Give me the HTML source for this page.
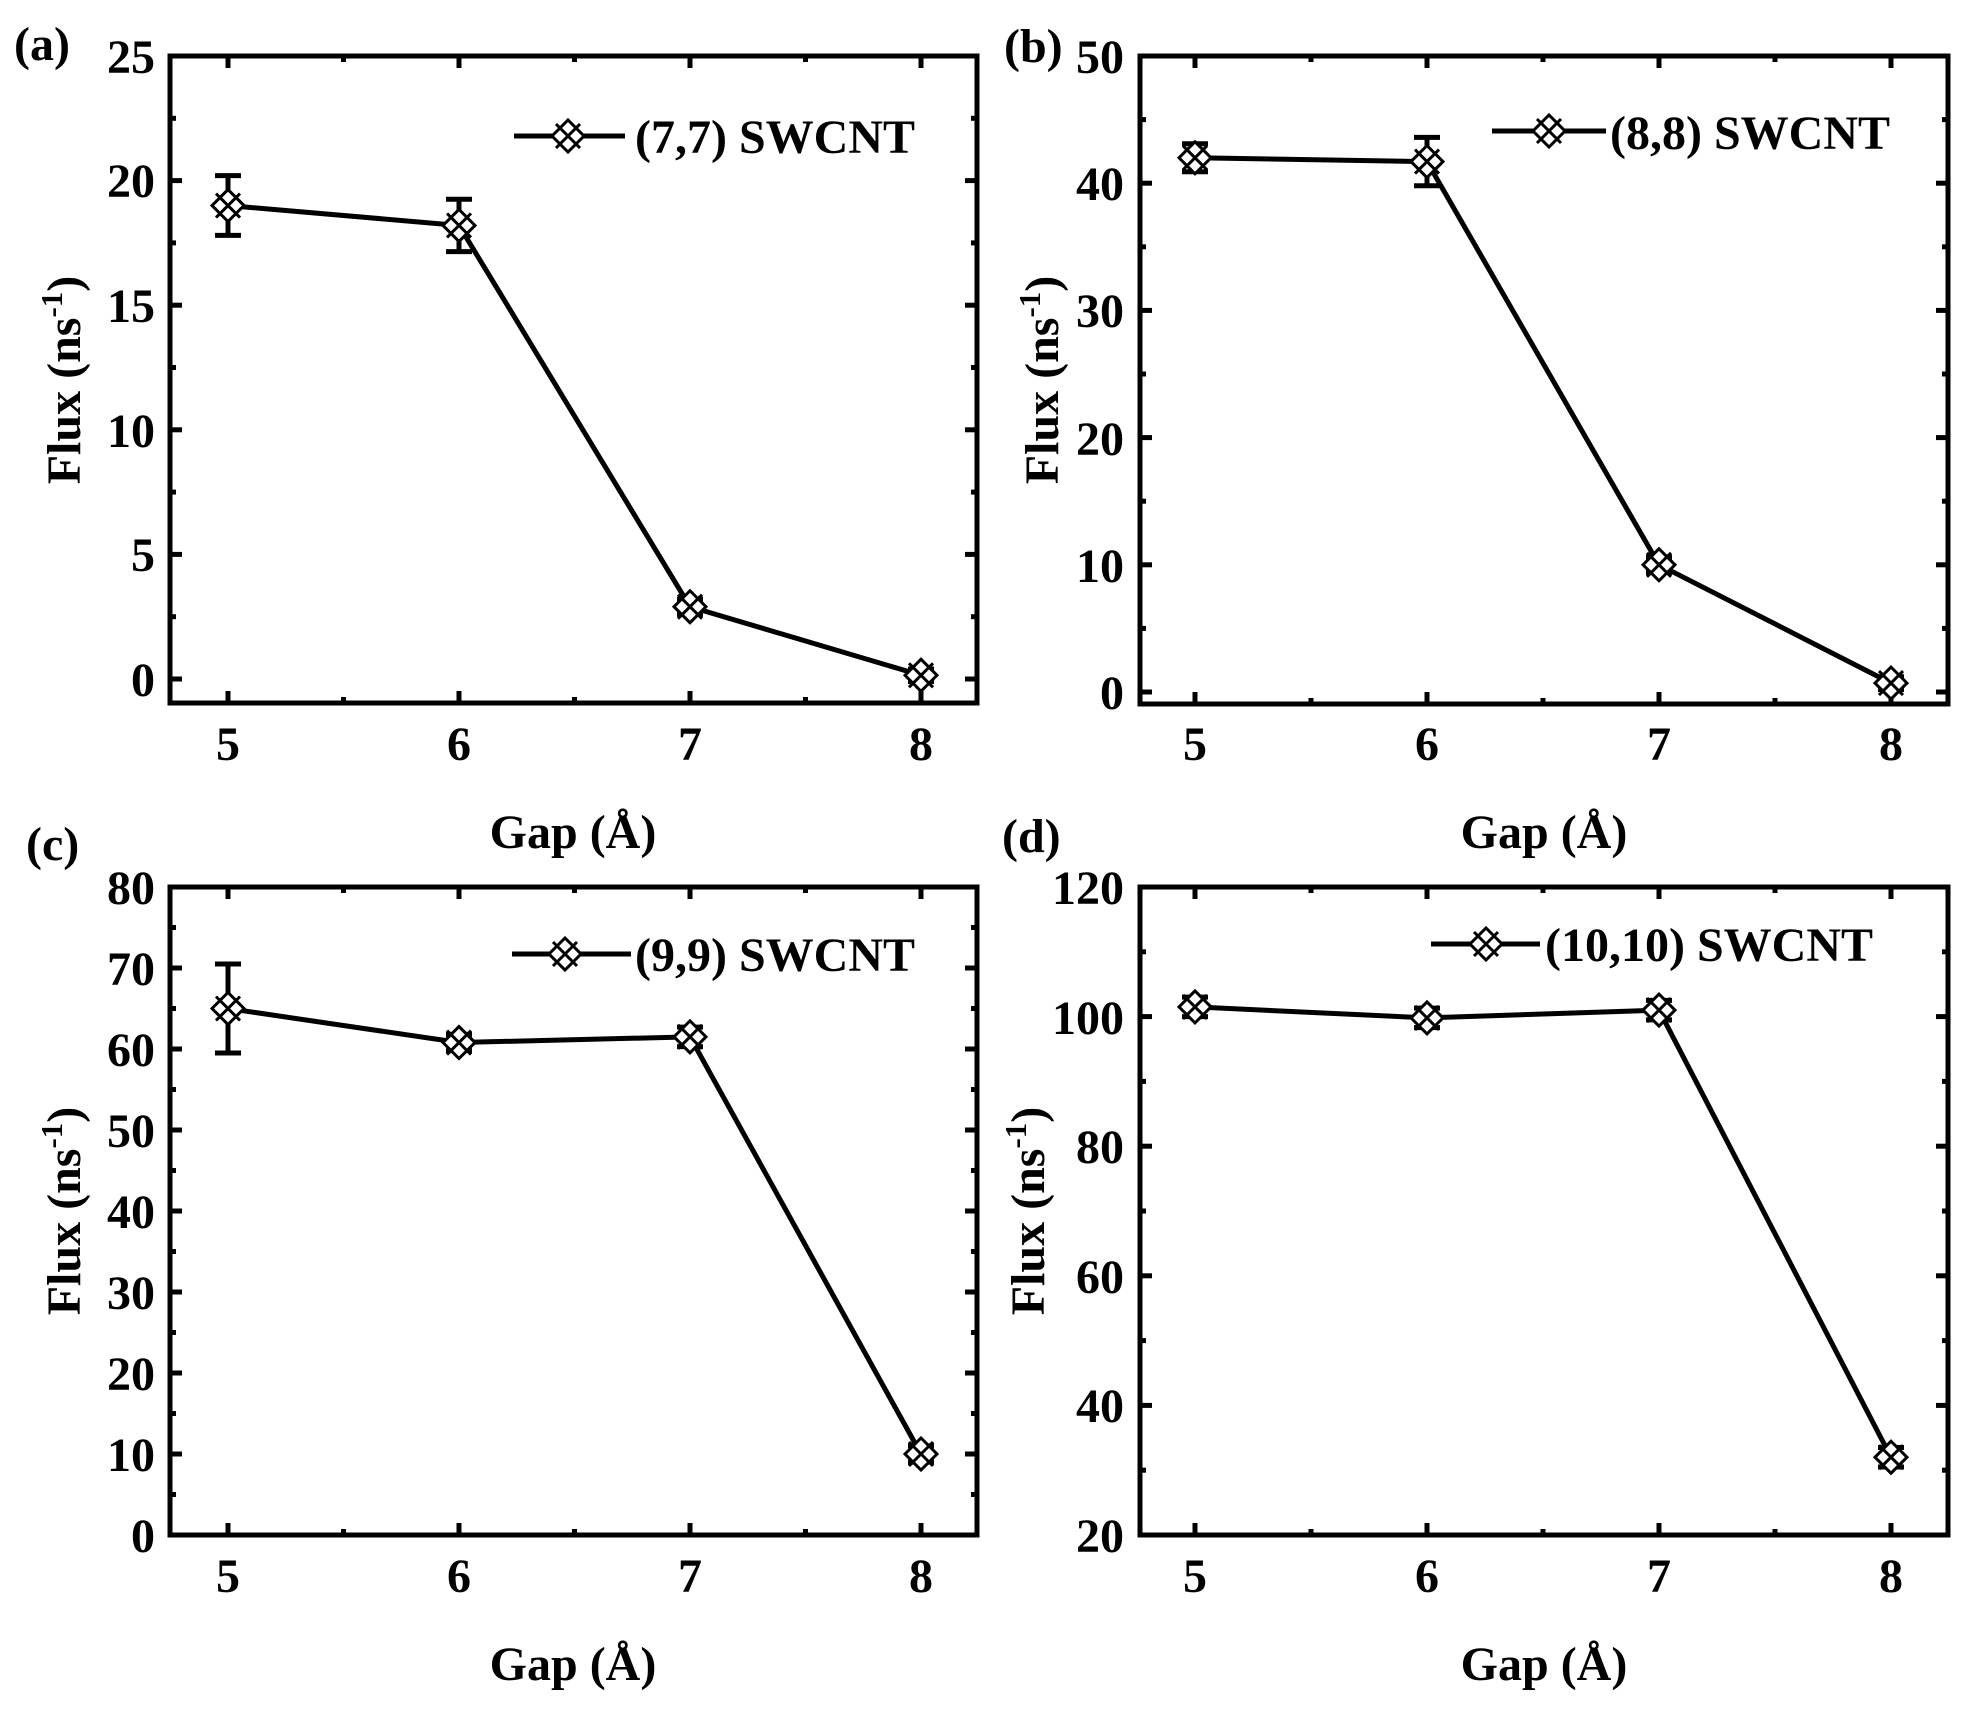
<!DOCTYPE html>
<html><head><meta charset="utf-8"><style>
html,body{margin:0;padding:0;background:#fff}
svg{display:block}
text{font-family:"Liberation Serif",serif;font-weight:bold;fill:#000}
</style></head><body>
<svg id="s" width="1982" height="1712" viewBox="0 0 1982 1712" xmlns="http://www.w3.org/2000/svg">
<g id="g"></g>
<g font-size="48">
<text x="14" y="60">(a)</text>
<text x="1004" y="62">(b)</text>
<text x="26" y="860">(c)</text>
<text x="1002" y="852">(d)</text>
<g text-anchor="end">
<text x="155" y="696">0</text><text x="155" y="571">5</text><text x="155" y="447">10</text><text x="155" y="322">15</text><text x="155" y="197">20</text><text x="155" y="73">25</text>
<text x="1124" y="709">0</text><text x="1124" y="582">10</text><text x="1124" y="455">20</text><text x="1124" y="327">30</text><text x="1124" y="200">40</text><text x="1124" y="73">50</text>
<text x="155" y="1552">0</text><text x="155" y="1471">10</text><text x="155" y="1390">20</text><text x="155" y="1309">30</text><text x="155" y="1228">40</text><text x="155" y="1147">50</text><text x="155" y="1066">60</text><text x="155" y="985">70</text><text x="155" y="904">80</text>
<text x="1124" y="1552">20</text><text x="1124" y="1422">40</text><text x="1124" y="1293">60</text><text x="1124" y="1163">80</text><text x="1124" y="1034">100</text><text x="1124" y="904">120</text>
</g>
<g text-anchor="middle">
<text x="228" y="760">5</text><text x="459" y="760">6</text><text x="690" y="760">7</text><text x="921" y="760">8</text>
<text x="1195" y="760">5</text><text x="1427" y="760">6</text><text x="1659" y="760">7</text><text x="1891" y="760">8</text>
<text x="228" y="1592">5</text><text x="459" y="1592">6</text><text x="690" y="1592">7</text><text x="921" y="1592">8</text>
<text x="1195" y="1592">5</text><text x="1427" y="1592">6</text><text x="1659" y="1592">7</text><text x="1891" y="1592">8</text>
<text x="573" y="848">Gap (Å)</text>
<text x="1544" y="848">Gap (Å)</text>
<text x="573" y="1680">Gap (Å)</text>
<text x="1544" y="1680">Gap (Å)</text>
<text transform="translate(80,380) rotate(-90)">Flux (ns<tspan font-size="31" dy="-18">-1</tspan><tspan dy="18">)</tspan></text>
<text transform="translate(1058,380) rotate(-90)">Flux (ns<tspan font-size="31" dy="-18">-1</tspan><tspan dy="18">)</tspan></text>
<text transform="translate(80,1211) rotate(-90)">Flux (ns<tspan font-size="31" dy="-18">-1</tspan><tspan dy="18">)</tspan></text>
<text transform="translate(1044,1211) rotate(-90)">Flux (ns<tspan font-size="31" dy="-18">-1</tspan><tspan dy="18">)</tspan></text>
</g>
<text x="635" y="153">(7,7) SWCNT</text>
<text x="1610" y="149">(8,8) SWCNT</text>
<text x="635" y="971">(9,9) SWCNT</text>
<text x="1545" y="961">(10,10) SWCNT</text>
</g>
</svg>
<script>
var g=document.getElementById('g');var NS='http://www.w3.org/2000/svg';
function el(t,a){var e=document.createElementNS(NS,t);for(var k in a)e.setAttribute(k,a[k]);g.appendChild(e);return e;}
function line(x1,y1,x2,y2,w){el('line',{x1:x1,y1:y1,x2:x2,y2:y2,stroke:'#000','stroke-width':w||5});}
function marker(x,y){var s=16;el('polygon',{points:(x-s)+','+y+' '+x+','+(y-s)+' '+(x+s)+','+y+' '+x+','+(y+s),fill:'#fff',stroke:'#000','stroke-width':3});
 line(x-12,y-12,x+12,y+12,3);line(x-12,y+12,x+12,y-12,3);}
function panel(P){
 var X=function(v){return P.x0+(v-5)*P.xs;};var Y=function(v){return P.y0-(v-P.ymin)*P.ys;};
 for(var v=5;v<=8;v+=0.5){var L=(v%1===0)?12:6;var x=X(v);line(x,P.B,x,P.B-L,5);line(x,P.T,x,P.T+L,5);}
 for(var v=P.ymin;v<=P.ymax+1e-9;v+=P.step/2){var maj=Math.abs(((v-P.ymin)/P.step)-Math.round((v-P.ymin)/P.step))<1e-6;var L=maj?12:6;var y=Y(v);if(y>P.B+1)continue;line(P.L,y,P.L+L,y,5);line(P.R,y,P.R-L,y,5);}
 el('rect',{x:P.L,y:P.T,width:P.R-P.L,height:P.B-P.T,fill:'none',stroke:'#000','stroke-width':5});
 var pts=P.d.map(function(d,i){return X(5+i)+','+Y(d[0]);}).join(' ');
 el('polyline',{points:pts,fill:'none',stroke:'#000','stroke-width':5,'stroke-linejoin':'round'});
 P.d.forEach(function(d,i){var x=X(5+i);var y1=Y(d[0]+d[1]),y2=Y(d[0]-d[1]);line(x,y1,x,y2,5);line(x-13,y1,x+13,y1,5);line(x-13,y2,x+13,y2,5);marker(x,Y(d[0]));});
 line(P.lg[0],P.lg[3],P.lg[1],P.lg[3],5);marker(P.lg[2],P.lg[3]);
}
panel({L:170,R:977,T:56,B:703,x0:228,xs:231,y0:679,ys:24.92,ymin:0,ymax:25,step:5,
 d:[[19,1.2],[18.2,1.05],[2.9,0.3],[0.15,0.25]],lg:[514,625,568,136]});
panel({L:1140,R:1948,T:56,B:704,x0:1195,xs:232,y0:692,ys:12.72,ymin:0,ymax:50,step:10,
 d:[[42,1.1],[41.7,1.9],[10,0.6],[0.7,0.5]],lg:[1492,1606,1549,131]});
panel({L:170,R:977,T:887,B:1535,x0:228,xs:231,y0:1535,ys:8.1,ymin:0,ymax:80,step:10,
 d:[[65,5.5],[60.8,1],[61.5,1.2],[10,1]],lg:[512,631,565,954]});
panel({L:1140,R:1948,T:887,B:1535,x0:1195,xs:232,y0:1535,ys:6.48,ymin:20,ymax:120,step:20,
 d:[[101.5,1.5],[99.8,1.5],[101,1.5],[32,1.5]],lg:[1431,1540,1486,944]});
</script>
</body></html>
